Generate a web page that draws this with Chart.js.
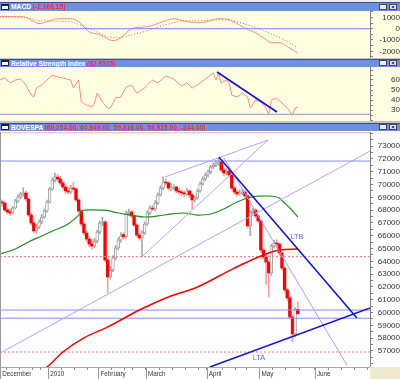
<!DOCTYPE html>
<html><head><meta charset="utf-8">
<script src="https://cdn.jsdelivr.net/npm/chart.js@4.4.1/dist/chart.umd.min.js"></script>
<style>
html,body{margin:0;padding:0}
body{width:400px;height:379px;overflow:hidden;background:#c4c4c4;position:relative}
.top{position:absolute;left:0;top:0;width:400px;height:2px;background:#ececec}
.bar{position:absolute;left:0;width:400px;background:#6f8fe0;border-top:1px solid #3d4f8f;box-sizing:border-box;font:bold 6.7px 'Liberation Sans',Arial,sans-serif;color:#fff;white-space:nowrap;overflow:hidden}
.ic{position:absolute;left:1px;top:1px;width:8px;height:6px;background:#fff;border:1px solid #222;border-top-width:2px;box-sizing:border-box}
.tx{position:absolute;left:11px;top:0}
.tx b{color:#ff1f3f}
.b1,.b2{position:absolute;top:1px;width:8px;height:6px;background:#ececec;border:1px solid #444;box-sizing:border-box;color:#000;font:bold 6px Arial;line-height:4px;text-align:center}
.b1{left:379px}.b2{left:389px}
canvas{position:absolute;left:0}
#corner{position:absolute;left:370px;top:367px;width:30px;height:12px;background:#efe9cf}
#lborder{position:absolute;left:0;top:132px;width:1px;height:235px;background:#9a9a9a}
</style></head>
<body>
<div class="top"></div>
<div class="bar" style="top:2px;height:9px;line-height:8px"><i class="ic"></i><span class="tx">MACD <b>(-2,168.15)</b></span><i class="b1"></i><i class="b2">×</i></div>
<canvas id="macd" width="400" height="47" style="top:11px;background:#ffffe1"></canvas>
<div class="bar" style="top:59px;height:8px;line-height:7px"><i class="ic" style="top:0"></i><span class="tx">Relative Strength Index <b>(32.9525)</b></span><i class="b1" style="top:0"></i><i class="b2" style="top:0">×</i></div>
<canvas id="rsi" width="400" height="54" style="top:67px;background:#ffffe1"></canvas>
<div class="bar" style="top:123px;height:8px;line-height:7px"><i class="ic" style="top:0"></i><span class="tx">BOVESPA <b>(60,254.00, 60,849.00, 59,816.00, 59,915.00, -344.00)</b></span><i class="b1" style="top:0"></i><i class="b2" style="top:0">×</i></div>
<canvas id="main" width="400" height="248" style="top:131px;background:#ffffff"></canvas>
<div id="lborder"></div>
<div id="corner"></div>
<script>
// ---------- price data (BOVESPA, Dec 2009 - May 2010, trading-day index) ----------
const open = [68600,68900,68640,68560,68020,67860,67780,68170,68720,69030,
 69270,69340,68880,67630,67000,66380,66690,67080,67470,67940,
 68640,69660,70360,70590,70440,70130,69810,69500,69420,69730,
 69660,68800,67940,66920,66220,65750,65360,65200,65590,66300,
 67000,67080,64110,62780,63330,64270,65050,65670,66100,65910,
 67780,67860,67550,66840,66060,65830,66220,66920,67780,68170,
 68090,68560,69190,69730,70200,70130,69650,69730,69810,69500,
 69420,69340,69270,69500,69190,68800,68950,69500,70050,70440,
 70750,70980,71380,71530,71690,71770,71140,70910,71060,70750,
 69730,69420,69270,69340,69420,69110,66770,67860,68020,67550,
 67160,64890,64340,63950,63100,65200,65440,65360,64660,63480,
 61770,61140,59660,58330,60254];
const high = [69100,69000,68800,68700,68200,68100,68300,68850,69200,69400,
 69750,69500,68950,67800,67100,66900,67250,67650,68100,68800,
 69800,70500,70900,70800,70650,70300,70000,69800,69950,70200,
 69750,68900,68050,67050,66400,65900,65700,65800,66450,67150,
 67450,67200,64300,63600,64450,65250,65850,66250,66250,67950,
 68100,68000,67650,66950,66200,66400,67100,67950,68350,68400,
 68750,69350,69900,70600,70450,70250,70100,70000,69900,69700,
 69600,69500,69700,69600,69300,69100,69650,70200,70600,70900,
 71150,71500,71700,71900,72050,71850,71300,71250,71200,70800,
 69850,69550,69600,69650,69550,69200,67950,68150,68100,67650,
 67250,65050,64500,64100,65350,65650,65700,65450,64750,63600,
 61900,61300,59800,60400,60849];
const low = [68400,68500,68300,67900,67700,67600,67700,68100,68600,68900,
 69100,68700,67500,66850,66200,66200,66550,66950,67350,67850,
 68550,69550,70200,70250,69950,69650,69300,69250,69300,69500,
 68650,67800,66750,66050,65550,65150,64950,65050,65450,66150,
 66800,63950,61550,62600,63200,64100,64900,65500,65750,65800,
 67600,67400,66700,65900,65650,64370,66100,66800,67650,67950,
 67950,68450,69100,69600,69950,69550,69500,69600,69350,69250,
 69150,69050,69150,69000,68100,68650,68850,69400,69950,70300,
 70600,70850,71250,71400,71500,71000,70700,70750,70600,69600,
 69250,69100,69150,69200,68900,66600,66000,67700,67400,67000,
 64700,64150,62200,61200,62900,65050,65100,64500,63300,61600,
 60950,59500,57700,58100,59816];
const close = [68900,68640,68560,68020,67860,67780,68170,68720,69030,69270,
 69340,68880,67630,67000,66380,66690,67080,67470,67940,68640,
 69660,70360,70590,70440,70130,69810,69500,69420,69730,69660,
 68800,67940,66920,66220,65750,65360,65200,65590,66300,67000,
 67080,64110,62780,63330,64270,65050,65670,65980,65910,67780,
 67860,67550,66840,66060,65830,66220,66920,67780,68170,68090,
 68560,69190,69730,70200,70130,69730,69730,69810,69500,69420,
 69340,69270,69500,69190,68800,68950,69500,70050,70440,70750,
 70980,71380,71530,71690,71770,71140,70910,71060,70750,69730,
 69420,69270,69340,69420,69110,66770,67860,68020,67550,67160,
 64890,64340,63950,63100,65200,65440,65360,64660,63480,61770,
 61140,59660,58330,60260,59915];

// moving averages
const greenIdx = [0,7,12,17,22,27,31,33,36,41,46,51,56,61,66,71,76,81,86,91,95,99,103,107,109,111,114];
const greenVal = [64500,64970,65520,65980,66450,66920,67600,68000,68030,68000,67780,67620,67470,67550,67700,67780,67620,67700,68090,68640,68950,69100,69110,68950,68560,68170,67470];
const redIdx = [16,19,25,33,42,54,65,76,90,101,107,114];
const redVal = [55400,55750,56920,58020,58880,60200,61220,62000,63480,64500,64890,64970];

// drawn trend lines (index, value endpoints)
const chanIdx = [1.2, 141.36], chanVal = [56840, 72620];
const fanSteepIdx = [55.0, 102.7], fanSteepVal = [64370, 73480];
const fanUpperIdx = [63.7, 102.7], fanUpperVal = [70590, 73480];
const fanDownIdx = [86.0, 132.6], fanDownVal = [72080, 55900];
const ltbIdx = [84.1, 136.4], ltbVal = [72160, 59580];
const ltaIdx = [80.7, 141.36], ltaVal = [55750, 60360];
const blueLevels = [71840, 60200, 59560];
const redDottedLevels = [64370, 56920];
const topLevel = 74050;
const noteText = ['LTB', 'LTA'];
const noteIdx = [113.7, 99.3];
const noteVal = [65900, 56490];

// MACD panel
const macdIdx = [0,10,14,16,20,23,28,31,35,39,44,47,51,57,64,67,72,77,81,84,88,93,95,98,102,104,107,110,112,114];
const macdVal = [1060,1060,620,440,700,885,885,620,-270,-530,-1060,-800,0,180,710,885,620,530,710,885,800,180,-90,-350,-970,-1240,-1240,-1590,-1860,-2168];
const sigIdx = [0,11,16,27,36,44,48,57,64,72,77,84,89,96,102,108,114];
const sigVal = [1060,970,710,620,-90,-800,-710,-180,350,710,710,800,710,270,-270,-885,-1680];

// RSI panel
const rsiIdx = [1,3,5,7,9,11,13,14,15,17,19,21,23,25,28,29,31,32,34,36,37,38,40,42,43,45,47,49,51,53,56,57,59,61,64,66,67,70,72,74,77,80,82,83,84,85,87,88,89,91,93,95,96,98,100,102,103,104,106,108,110,112,113,114];
const rsiVal = [60,62,57,60,61,55,45,43,52,55,60,65,63,62,60,52,60,38,35,33,37,47,38,32,32,42,43,53,55,47,52,55,60,57,64,62,61,54,57,52,57,63,67,60,67,57,60,57,45,43,47,43,32,40,38,32,25,40,42,37,32,25,32,32.95];
const rsiTrendIdx = [83.4, 106.1], rsiTrendVal = [68, 28];
const rsiLevel = 25.7;

// x-axis ticks
const monthIdx = [1.3, 19.5, 38.5, 56.5, 79.5, 99.5, 120.5];
const monthLabel = ['December','2010','February','March','April','May','June'];
const weekIdx = [3.5,8.5,13.5,16.5,24.5,29.5,34.5,43.5,48.5,51.5,61.5,66.5,71.5,76.5,85.5,90.5,94.5,104.5,109.5,114.5,125.5,130.5,135.5,140.5];

// ---------- rendering ----------
const X_MIN = 1.2045, X_MAX = 141.36;
const FONT = "'Liberation Sans', Arial, sans-serif";
Chart.defaults.font.family = FONT;

function pts(idx, val){ return idx.map((x, i) => ({x: x, y: val[i]})); }
function lvl(v){ return [{x: X_MIN, y: v}, {x: X_MAX, y: v}]; }
function lineDs(data, color, width, extra){
  return Object.assign({type: 'line', data: data, borderColor: color, borderWidth: width,
    pointRadius: 0, fill: false, order: 1, tension: 0}, extra || {});
}
function steps(a, b, s){ const r = []; for (let v = a; v <= b + 1e-9; v += s) r.push(v); return r; }

function yAxis(min, max, tickVals, labelFn, pad){
  return {
    position: 'right', min: min, max: max, bounds: 'data', beginAtZero: false,
    grid: {drawOnChartArea: false, drawTicks: true, tickLength: 3, color: '#808080'},
    border: {display: true, color: '#808080'},
    ticks: {autoSkip: false, crossAlign: 'far', padding: pad, color: '#333',
      font: {family: FONT, size: 8}, callback: labelFn},
    afterBuildTicks: s => { s.ticks = tickVals.map(v => ({value: v})); },
    afterFit: s => { s.width = 30; s.paddingTop = 0; s.paddingBottom = 0; }
  };
}
function hiddenX(){
  return {type: 'linear', display: false, min: X_MIN, max: X_MAX, bounds: 'data'};
}
const common = {
  animation: false, responsive: false, devicePixelRatio: 1,
  plugins: {legend: {display: false}, tooltip: {enabled: false}},
  layout: {padding: 0}
};

// MACD
new Chart(document.getElementById('macd'), {
  type: 'line',
  data: {datasets: [
    lineDs(lvl(0), '#8080ff', 1),
    lineDs(pts(sigIdx, sigVal), '#b06a6a', 1, {borderDash: [1, 2], cubicInterpolationMode: 'monotone'}),
    lineDs(pts(macdIdx, macdVal), '#ff8a8a', 1, {cubicInterpolationMode: 'monotone'})
  ]},
  options: Object.assign({}, common, {
    scales: {
      x: hiddenX(),
      y: yAxis(-2593, 1566, steps(-2500, 1500, 500), v => (v % 1000 === 0 ? String(v) : ''), 3.5)
    }
  })
});

// RSI
new Chart(document.getElementById('rsi'), {
  type: 'line',
  data: {datasets: [
    lineDs(lvl(rsiLevel), '#9090e8', 1),
    lineDs(pts(rsiTrendIdx, rsiTrendVal), '#1010e0', 1.6),
    lineDs(pts(rsiIdx, rsiVal), '#ff8a8a', 1)
  ]},
  options: Object.assign({}, common, {
    scales: {
      x: hiddenX(),
      y: yAxis(19, 73, steps(20, 70, 5), v => (v % 10 === 0 && v >= 30 && v <= 60 ? String(v) : ''), 15)
    }
  })
});

// main price chart
const upColor = '#f6f6f6', downColor = '#ff0000';
const isDown = i => close[i] < open[i];
const notePlugin = {
  id: 'notes',
  afterDatasetsDraw(chart){
    const {ctx, scales: {x, y}} = chart;
    ctx.save();
    ctx.font = '7.5px ' + FONT;
    ctx.fillStyle = '#6a6aff';
    ctx.textAlign = 'center';
    ctx.textBaseline = 'middle';
    noteText.forEach((t, i) => ctx.fillText(t, x.getPixelForValue(noteIdx[i]), y.getPixelForValue(noteVal[i])));
    ctx.restore();
  },
  afterDraw(chart){
    const {ctx, chartArea, scales: {x}} = chart;
    ctx.save();
    ctx.strokeStyle = '#9a9a9a';
    ctx.lineWidth = 1;
    monthIdx.forEach(v => {
      const px = Math.round(x.getPixelForValue(v)) + 0.5;
      if (px < chartArea.left || px > chartArea.right) return;
      ctx.beginPath(); ctx.moveTo(px, chartArea.bottom); ctx.lineTo(px, chart.height); ctx.stroke();
    });
    ctx.restore();
  }
};

const mainSets = [
  lineDs(lvl(topLevel), '#ffb0b0', 1),
  lineDs(pts(chanIdx, chanVal), '#a8a8ff', 1),
  lineDs(pts(fanSteepIdx, fanSteepVal), '#a8a8ff', 1),
  lineDs(pts(fanUpperIdx, fanUpperVal), '#a8a8ff', 1),
  lineDs(pts(fanDownIdx, fanDownVal), '#a0a0ff', 1),
  lineDs(pts(redIdx, redVal), '#ff0000', 1.5, {cubicInterpolationMode: 'monotone'}),
  lineDs(pts(greenIdx, greenVal), '#1f8f1f', 1.2, {cubicInterpolationMode: 'monotone'}),
  lineDs(pts(ltbIdx, ltbVal), '#1414dc', 1.6, {order: 0}),
  lineDs(pts(ltaIdx, ltaVal), '#1414dc', 1.6, {order: 0})
];
blueLevels.forEach(v => mainSets.push(lineDs(lvl(v), '#8c8cff', 1)));
redDottedLevels.forEach(v => mainSets.push(lineDs(lvl(v), '#ff7070', 1, {borderDash: [2, 2]})));
mainSets.push({
  type: 'bar', order: 11, grouped: false, barThickness: 1,
  data: open.map((o, i) => ({x: i, y: [low[i], high[i]]})),
  backgroundColor: c => (isDown(c.dataIndex) ? '#ffa0a0' : '#a8a8a8')
});
mainSets.push({
  type: 'bar', order: 10, grouped: false, barThickness: 2.7, borderSkipped: false,
  data: open.map((o, i) => ({x: i, y: [o, close[i]]})),
  backgroundColor: c => (isDown(c.dataIndex) ? downColor : upColor),
  borderColor: c => (isDown(c.dataIndex) ? downColor : '#8e8e8e'),
  borderWidth: c => (isDown(c.dataIndex) ? 0 : 0.8)
});

new Chart(document.getElementById('main'), {
  type: 'bar',
  data: {datasets: mainSets},
  options: Object.assign({}, common, {
    layout: {padding: {top: 1, left: 0, right: 0, bottom: 0}},
    scales: {
      x: {
        type: 'linear', min: X_MIN, max: X_MAX, bounds: 'data', offset: false,
        grid: {drawOnChartArea: false, drawTicks: true, tickLength: 3, color: '#909090', offset: false},
        border: {display: true, color: '#a8a8a8'},
        ticks: {autoSkip: false, maxRotation: 0, minRotation: 0, align: 'start', padding: 0, labelOffset: 2,
          color: '#333', font: {family: FONT, size: 6.3},
          callback: v => { const k = monthIdx.indexOf(v); return k >= 0 ? monthLabel[k] : ''; }},
        afterBuildTicks: s => { s.ticks = monthIdx.concat(weekIdx).sort((a, b) => a - b).map(v => ({value: v})); },
        afterFit: s => { s.height = 12; s.paddingLeft = 0; s.paddingRight = 0; }
      },
      y: yAxis(55750, 74109, steps(56000, 74000, 500),
        v => (v % 1000 === 0 && v >= 57000 && v <= 73000 ? String(v) : ''), 2)
    }
  }),
  plugins: [notePlugin]
});
</script>
</body></html>
